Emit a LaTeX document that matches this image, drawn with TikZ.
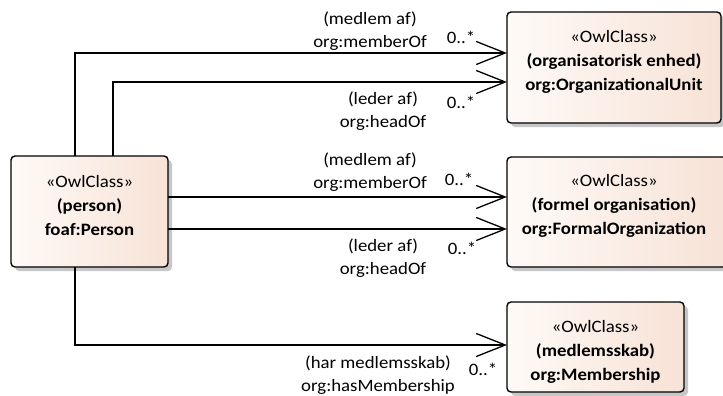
\documentclass[tikz,border=0pt]{standalone}
\usepackage{fontspec}
\setmainfont{Carlito}[FakeStretch=1.08]
\usetikzlibrary{arrows.meta,shadows,calc}
\definecolor{boxL}{HTML}{FEFAF7}
\definecolor{boxR}{HTML}{F7E2D6}
\tikzset{
  owlbox/.style={draw=black, line width=1.4pt, rounded corners=4pt, inner sep=0pt, outer sep=0pt,
    left color=boxL, right color=boxR,
    general shadow={fill=black!22, shadow xshift=4pt, shadow yshift=-4pt}},
  owltext/.style={align=center, font=\fontsize{17.4}{24}\selectfont, inner sep=0pt},
  lbl/.style={align=center, font=\fontsize{17.4}{22.5}\selectfont, inner sep=0pt},
  mult/.style={font=\fontsize{17.4}{20}\selectfont, inner sep=0pt},
  assoc/.style={line width=1.3pt, -{Straight Barb[length=29pt,width=23pt,line width=1.3pt]}}
}
\begin{document}
\begin{tikzpicture}[x=1pt,y=-1pt]
\useasboundingbox (0,0) rectangle (723,396);
% boxes
\node[owlbox, minimum width=157pt, minimum height=111pt] (person) at (89.5,211.5) {};
\node[owlbox, minimum width=214pt, minimum height=111pt] (orgunit) at (614,67.5) {};
\node[owlbox, minimum width=220pt, minimum height=110pt] (formal) at (617,212) {};
\node[owlbox, minimum width=177pt, minimum height=90pt] (member) at (595.5,347) {};
% box texts
\node[owltext] (persontext) at (89.5,206) {«OwlClass»\\\textbf{(person)}\\\textbf{foaf:Person}};
\node[owltext] (orgunittext) at (614,62) {«OwlClass»\\\textbf{(organisatorisk enhed)}\\\textbf{org:OrganizationalUnit}};
\node[owltext] (formaltext) at (614,206) {«OwlClass»\\\textbf{(formel organisation)}\\\textbf{org:FormalOrganization}};
\node[owltext] (membertext) at (595.5,352) {«OwlClass»\\\textbf{(medlemsskab)}\\\textbf{org:Membership}};
% connector end points
\coordinate (ou1) at ([yshift=14.5pt]orgunit.west);
\coordinate (ou2) at ([yshift=-14.5pt]orgunit.west);
\coordinate (fo1) at ([yshift=15pt]formal.west);
\coordinate (fo2) at ([yshift=-17pt]formal.west);
\coordinate (me1) at ([yshift=2pt]member.west);
\coordinate (p1) at ([xshift=64pt]person.north west);
\coordinate (p2) at ([xshift=102pt]person.north west);
\coordinate (p5) at ([xshift=64pt]person.south west);
% connectors
\draw[assoc] (p1) |- (ou1);
\draw[assoc] (p2) |- (ou2);
\draw[assoc] (person.east |- fo1) -- (fo1);
\draw[assoc] (person.east |- fo2) -- (fo2);
\draw[assoc] (p5) |- (me1);
% labels
\node[lbl] (l1) at (370,31) {(medlem af)\\org:memberOf};
\node[mult] (m1) at (461,37) {0..*};
\node[lbl] (l2) at (383,111) {(leder af)\\org:headOf};
\node[mult] (m2) at (461,102) {0..*};
\node[lbl] (l3) at (370,172) {(medlem af)\\org:memberOf};
\node[mult] (m3) at (459,179) {0..*};
\node[lbl] (l4) at (383,258) {(leder af)\\org:headOf};
\node[mult] (m4) at (462,248) {0..*};
\node[lbl] (l5) at (378,375) {(har medlemsskab)\\org:hasMembership};
\node[mult] (m5) at (483,369) {0..*};
\end{tikzpicture}
\end{document}
